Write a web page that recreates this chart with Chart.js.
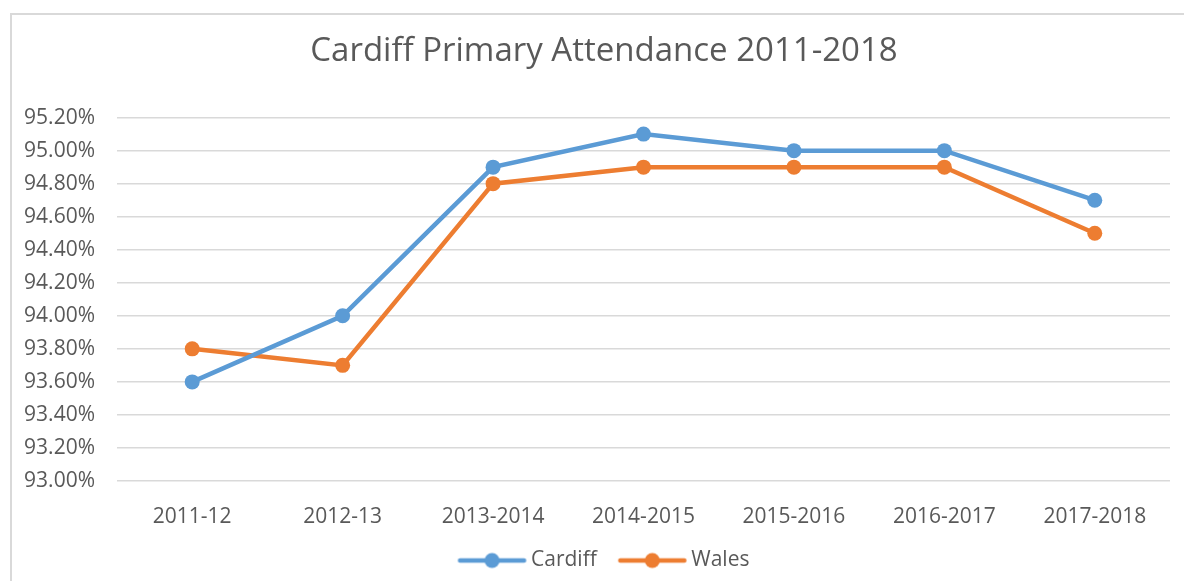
<!DOCTYPE html>
<html>
<head>
<meta charset="utf-8">
<script src="https://cdn.jsdelivr.net/npm/chart.js@4"></script>
<style>
  html, body { margin: 0; padding: 0; background: #fff; overflow: hidden; width: 1184px; height: 581px; }
  .frame { position: absolute; left: 10px; top: 13px; width: 1200px; height: 600px; border: 2px solid #d9d9d9; box-sizing: border-box; }
  /* wider than the window: the frame runs past the right edge */
  .chart-container { position: absolute; left: 0; top: 0; width: 1212px; height: 581px; }
</style>
</head>
<body>
<div class="frame"></div>
<div class="chart-container">
  <canvas id="chart"></canvas>
</div>
<script>
var years = ['2011-12', '2012-13', '2013-2014', '2014-2015', '2015-2016', '2016-2017', '2017-2018'];
var cardiff = [93.6, 94.0, 94.9, 95.1, 95.0, 95.0, 94.7];
var wales = [93.8, 93.7, 94.8, 94.9, 94.9, 94.9, 94.5];

var grey = '#595959';
var blue = '#5B9BD5';
var orange = '#ED7D31';

// legend marker: line with a dot in the middle, pushed right so it sits close to its text
function marker(color) {
  var c = document.createElement('canvas');
  c.width = 92; c.height = 18;
  var g = c.getContext('2d');
  g.strokeStyle = color;
  g.lineWidth = 4.5;
  g.lineCap = 'round';
  g.beginPath(); g.moveTo(22.5, 9); g.lineTo(86.5, 9); g.stroke();
  g.fillStyle = color;
  g.beginPath(); g.arc(54.5, 9, 7.5, 0, Math.PI * 2); g.fill();
  return c;
}

// the empty lead-in of the first marker pushes the legend right, pull it back
var legendShift = {
  id: 'legendShift',
  afterLayout: function(chart) {
    chart.legend.left -= 6;
    chart.legend.right -= 6;
  }
};

Chart.defaults.font.family = '"Open Sans", sans-serif';
Chart.defaults.color = grey;

var config = {
  type: 'line',
  plugins: [legendShift],
  data: {
    labels: years,
    datasets: [{
      label: 'Cardiff',
      data: cardiff,
      borderColor: blue,
      backgroundColor: blue,
      borderWidth: 4.5,
      pointRadius: 7.5,
      pointHoverRadius: 7.5,
      pointBorderWidth: 0,
      tension: 0
    }, {
      label: 'Wales',
      data: wales,
      borderColor: orange,
      backgroundColor: orange,
      borderWidth: 4.5,
      pointRadius: 7.5,
      pointHoverRadius: 7.5,
      pointBorderWidth: 0,
      tension: 0
    }]
  },
  options: {
    responsive: true,
    maintainAspectRatio: false,
    animation: false,
    layout: {
      padding: { left: 10, right: 14, top: 14, bottom: 0 }
    },
    plugins: {
      title: {
        display: true,
        text: 'Cardiff Primary Attendance 2011-2018',
        color: grey,
        font: { size: 33, weight: 'normal' },
        padding: { top: 18, bottom: 46 }
      },
      legend: {
        position: 'bottom',
        labels: {
          usePointStyle: true,
          pointStyleWidth: 74,
          color: grey,
          font: { size: 21 },
          padding: 10,
          generateLabels: function(chart) {
            return chart.data.datasets.map(function(ds, i) {
              return {
                text: ds.label,
                pointStyle: marker(ds.borderColor),
                fillStyle: ds.borderColor,
                strokeStyle: ds.borderColor,
                lineWidth: 0,
                datasetIndex: i,
                fontColor: grey
              };
            });
          }
        }
      },
      tooltip: { enabled: false }
    },
    scales: {
      x: {
        offset: true,
        grid: { display: false, drawTicks: false },
        border: { display: false },
        ticks: { color: grey, font: { size: 21 }, padding: 23, maxRotation: 0 },
        afterFit: function(axis) { axis.height = 59; }
      },
      y: {
        min: 93.0,
        max: 95.2,
        grid: { color: '#d9d9d9', lineWidth: 1.5, drawTicks: false },
        border: { display: false },
        ticks: {
          stepSize: 0.2,
          color: grey,
          font: { size: 21 },
          padding: 22,
          callback: function(v) { return v.toFixed(2) + '%'; }
        },
        afterFit: function(axis) { axis.width = 107; }
      },
      // empty right-hand axis, only keeps the plot clear of the right edge
      yRight: {
        position: 'right',
        grid: { display: false, drawTicks: false },
        border: { display: false },
        ticks: { display: false },
        afterFit: function(axis) { axis.width = 28; }
      }
    }
  }
};

var myChart = new Chart(document.getElementById('chart'), config);
</script>
</body>
</html>
